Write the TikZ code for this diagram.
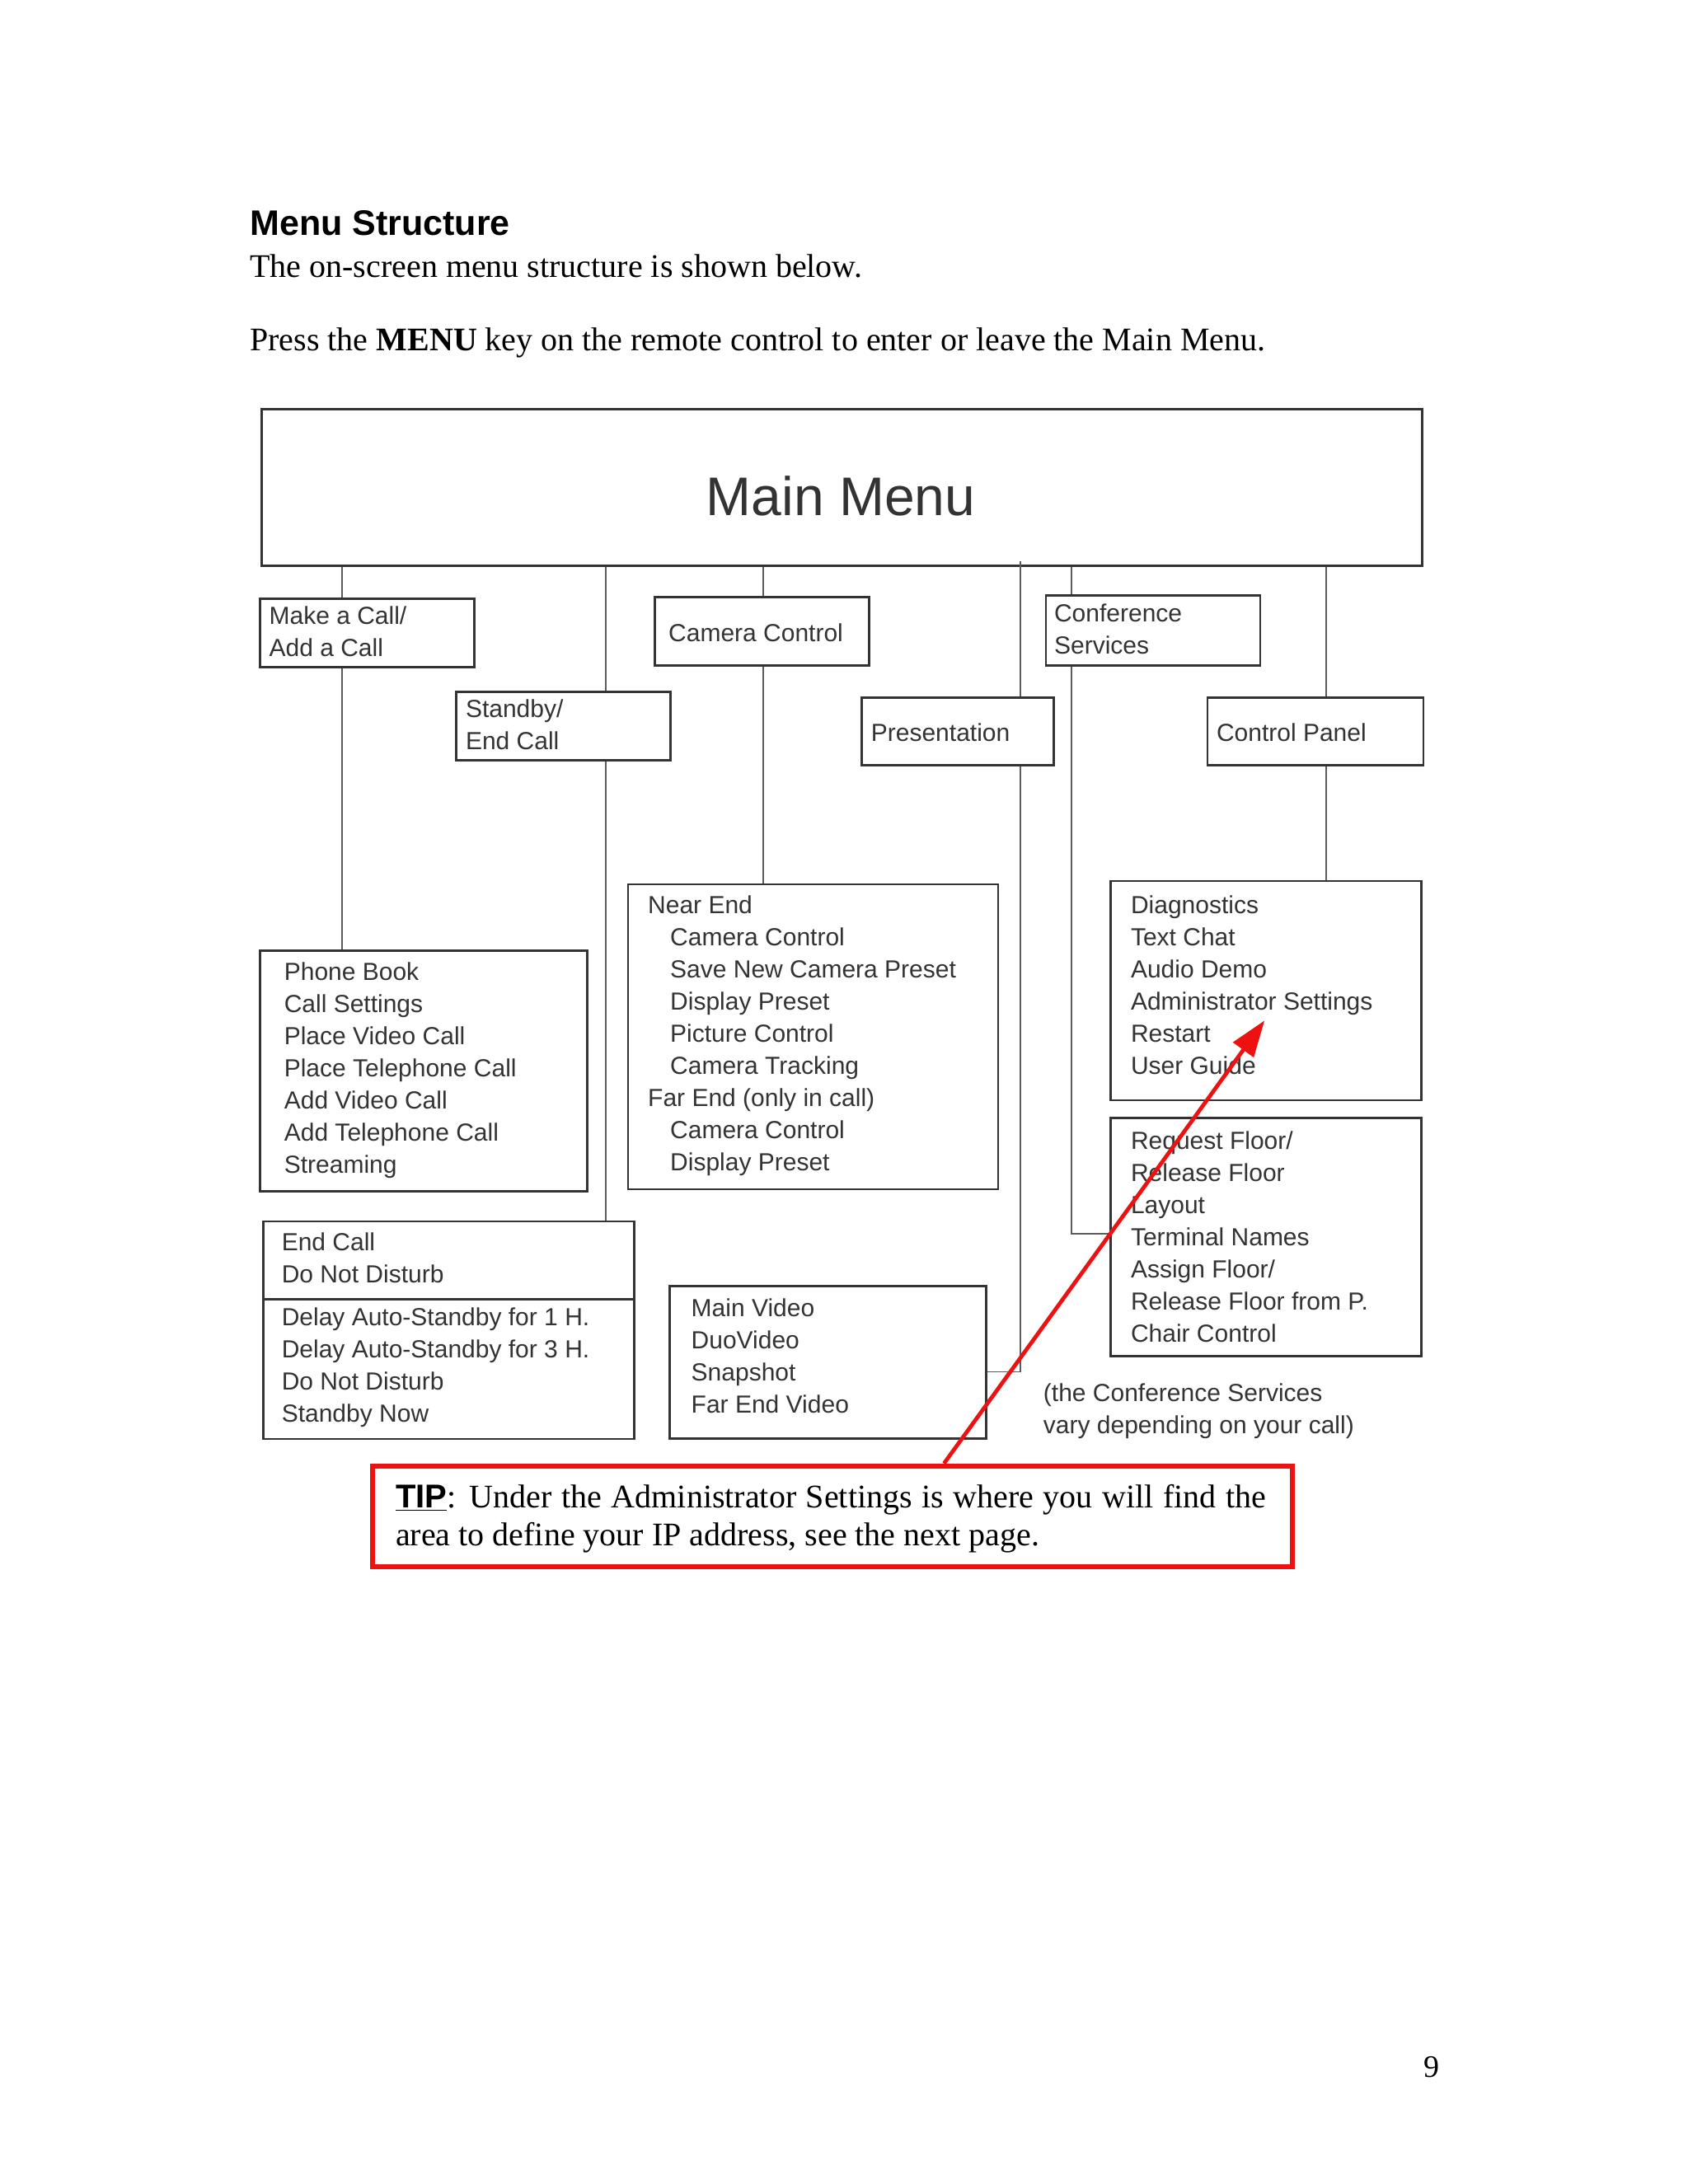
\documentclass[tikz,border=0pt]{standalone}
\usepackage{fontspec}
\setmainfont{Liberation Serif}
\newfontfamily\arialf{Liberation Sans}
\usetikzlibrary{arrows.meta}
\definecolor{ink}{HTML}{333333}
\definecolor{tipred}{HTML}{EE1111}
\begin{document}
\begin{tikzpicture}[x=0.505pt,y=-0.505pt,
  box/.style={draw=ink,line width=1.4pt,inner sep=0pt,anchor=north west},
  lst/.style={anchor=north west,inner sep=0pt,align=left,text=ink,font=\arialf\fontsize{15}{19.5}\selectfont},
  conn/.style={draw=ink!80,line width=0.8pt}]
\useasboundingbox (0pt,0pt) rectangle (1024pt,-1325pt);
\node[anchor=west,inner sep=0pt,font=\arialf\bfseries\fontsize{21.5}{24}\selectfont] (title) at (300,268) {Menu Structure};
\node[anchor=west,inner sep=0pt,font=\fontsize{20}{23}\selectfont] (l1) at (300,320) {The on-screen menu structure is shown below.};
\node[anchor=west,inner sep=0pt,font=\fontsize{20}{23}\selectfont] (l2) at (300,412) {Press the \textbf{MENU} key on the remote control to enter or leave the Main Menu.};
% boxes
\node[box,line width=1.6pt,minimum width=704pt,minimum height=95pt] (main) at (313,490) {};
\node[font=\arialf\fontsize{33}{36}\selectfont,text=ink] (mt) at (1010,596) {Main Menu};
\node[box,minimum width=130pt,minimum height=41.5pt] (mk) at (311,718) {};
\node[box,minimum width=130pt,minimum height=41.5pt] (sb) at (547,830) {};
\node[box,minimum width=130pt,minimum height=41.5pt] (cc) at (785,716) {};
\node[box,minimum width=116.5pt,minimum height=41pt] (pr) at (1034,837) {};
\node[box,minimum width=130pt,minimum height=42.5pt] (cs) at (1255,714) {};
\node[box,minimum width=131pt,minimum height=41pt] (cp) at (1449,837) {};
\node[box,minimum width=198.5pt,minimum height=146pt] (pb) at (311,1141) {};
\node[box,minimum width=225pt,minimum height=132pt] (ec) at (315,1466) {};
\draw[draw=ink,line width=1.4pt] (315,1561) -- (761,1561);
\node[box,minimum width=224.5pt,minimum height=185pt] (ne) at (753,1061) {};
\node[box,minimum width=192pt,minimum height=92.5pt] (mv) at (803,1544) {};
\node[box,minimum width=188.5pt,minimum height=133pt] (dg) at (1333,1057) {};
\node[box,minimum width=188.5pt,minimum height=144.5pt] (rf) at (1333,1342) {};
% texts
\node[lst] (tmk) at (323,728) {Make a Call/\\Add a Call};
\node[lst] (tsb) at (559,840) {Standby/\\End Call};
\node[lst,anchor=center] (tcc) at (908,760) {Camera Control};
\node[lst,anchor=west] (tpr) at (1046,880) {Presentation};
\node[lst] (tcs) at (1266,725) {Conference\\Services};
\node[lst,anchor=west] (tcp) at (1461,880) {Control Panel};
\node[lst] (tpb) at (341,1156) {Phone Book\\Call Settings\\Place Video Call\\Place Telephone Call\\Add Video Call\\Add Telephone Call\\Streaming};
\node[lst] (tec) at (338,1481) {End Call\\Do Not Disturb};
\node[lst] (tds) at (338,1571) {Delay Auto-Standby for 1 H.\\Delay Auto-Standby for 3 H.\\Do Not Disturb\\Standby Now};
\node[lst] (tne) at (778,1076) {Near End\\\hspace*{13.5pt}Camera Control\\\hspace*{13.5pt}Save New Camera Preset\\\hspace*{13.5pt}Display Preset\\\hspace*{13.5pt}Picture Control\\\hspace*{13.5pt}Camera Tracking\\Far End (only in call)\\\hspace*{13.5pt}Camera Control\\\hspace*{13.5pt}Display Preset};
\node[lst] (tmv) at (830,1560) {Main Video\\DuoVideo\\Snapshot\\Far End Video};
\node[lst] (tdg) at (1358,1076) {Diagnostics\\Text Chat\\Audio Demo\\Administrator Settings\\Restart\\User Guide};
\node[lst] (trf) at (1358,1359) {Request Floor/\\Release Floor\\Layout\\Terminal Names\\Assign Floor/\\Release Floor from P.\\Chair Control};
\node[lst] (note) at (1253,1662) {(the Conference Services\\vary depending on your call)};
% connectors
\draw[conn] (main.south -| 411,0) -- (mk.north -| 411,0);
\draw[conn] (mk.south -| 411,0) -- (pb.north -| 411,0);
\draw[conn] (main.south -| 728,0) -- (sb.north -| 728,0);
\draw[conn] (sb.south -| 728,0) -- (ec.north -| 728,0);
\draw[conn] (main.south -| 917,0) -- (cc.north -| 917,0);
\draw[conn] (cc.south -| 917,0) -- (ne.north -| 917,0);
\draw[conn] (1226,674) -- (pr.north -| 1226,0);
\draw[conn] (pr.south -| 1226,0) -- (1226,1648) -- (mv.east |- 0,1648);
\draw[conn] (main.south -| 1287,0) -- (cs.north -| 1287,0);
\draw[conn] (cs.south -| 1287,0) -- (1287,1482) -- (rf.west |- 0,1482);
\draw[conn] (main.south -| 1593,0) -- (cp.north -| 1593,0);
\draw[conn] (cp.south -| 1593,0) -- (dg.north -| 1593,0);
% tip
\node[draw=tipred,line width=3pt,anchor=north west,minimum width=558pt,minimum height=61pt] (tip) at (445,1758) {};
\node[anchor=north west,inner sep=0pt,text width=528pt,align=justify,font=\fontsize{20}{23}\selectfont] (tiptext) at (475,1783) {\underline{\arialf\bfseries TIP}: Under the Administrator Settings is where you will find the area to define your IP address, see the next page.};
\coordinate (arr) at (1519,1226);
\draw[tipred,line width=2.4pt,-{Triangle[length=22pt,width=15pt]}] (tip.north -| 1134,0) -- (arr);
\node[font=\fontsize{19}{23}\selectfont] (pg) at (1720,2483) {9};
\end{tikzpicture}
\end{document}
